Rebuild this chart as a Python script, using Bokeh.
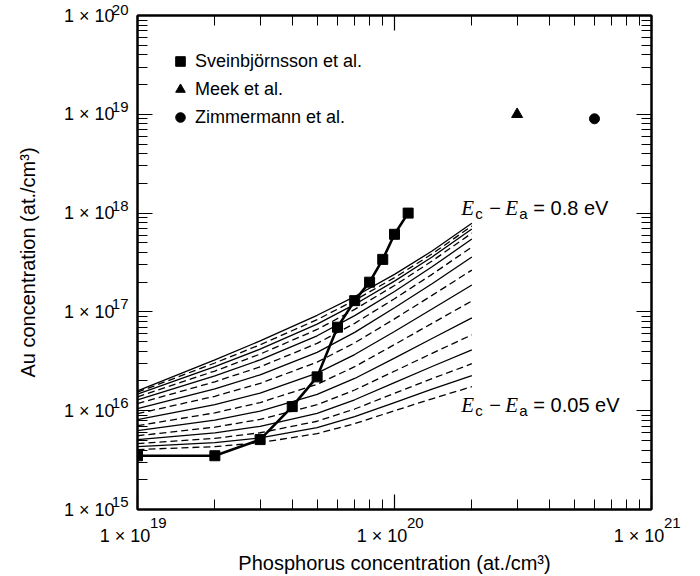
import numpy as np
from bokeh.plotting import figure
from bokeh.models import (LogAxis, FixedTicker, Label, Legend, LegendItem, Range1d,
                          CustomJSTickFormatter)
from bokeh.embed import file_html
from bokeh.resources import INLINE

# ---------------- data ----------------
phos_model = [1e19, 2e19, 3e19, 5e19, 7e19, 1e20, 1.4e20, 2e20]

au_ea_005 = [4.04e15, 4.33e15, 4.75e15, 5.86e15, 7.40e15, 1.00e16, 1.32e16, 1.75e16]
au_ea_010 = [4.33e15, 4.76e15, 5.31e15, 6.73e15, 8.69e15, 1.21e16, 1.65e16, 2.26e16]
au_ea_015 = [4.64e15, 5.25e15, 5.98e15, 7.82e15, 1.04e16, 1.50e16, 2.11e16, 2.99e16]
au_ea_020 = [5.09e15, 5.97e15, 6.95e15, 9.42e15, 1.29e16, 1.92e16, 2.80e16, 4.13e16]
au_ea_025 = [5.58e15, 6.81e15, 8.17e15, 1.15e16, 1.62e16, 2.51e16, 3.81e16, 5.86e16]
au_ea_030 = [6.28e15, 8.04e15, 9.91e15, 1.46e16, 2.12e16, 3.41e16, 5.38e16, 8.69e16]
au_ea_035 = [7.05e15, 9.51e15, 1.21e16, 1.85e16, 2.79e16, 4.67e16, 7.66e16, 1.29e17]
au_ea_040 = [8.11e15, 1.15e16, 1.51e16, 2.40e16, 3.70e16, 6.34e16, 1.07e17, 1.87e17]
au_ea_045 = [9.33e15, 1.40e16, 1.89e16, 3.10e16, 4.86e16, 8.49e16, 1.47e17, 2.65e17]
au_ea_050 = [1.05e16, 1.66e16, 2.31e16, 3.90e16, 6.21e16, 1.10e17, 1.93e17, 3.60e17]
au_ea_055 = [1.18e16, 1.96e16, 2.78e16, 4.80e16, 7.66e16, 1.36e17, 2.40e17, 4.54e17]
au_ea_060 = [1.29e16, 2.25e16, 3.27e16, 5.73e16, 9.16e16, 1.61e17, 2.86e17, 5.46e17]
au_ea_065 = [1.38e16, 2.52e16, 3.74e16, 6.64e16, 1.06e17, 1.85e17, 3.27e17, 6.28e17]
au_ea_070 = [1.47e16, 2.79e16, 4.20e16, 7.52e16, 1.19e17, 2.05e17, 3.60e17, 6.89e17]
au_ea_075 = [1.54e16, 3.04e16, 4.65e16, 8.34e16, 1.31e17, 2.22e17, 3.86e17, 7.40e17]
au_ea_080 = [1.59e16, 3.27e16, 5.09e16, 9.24e16, 1.43e17, 2.40e17, 4.13e17, 7.89e17]

model_curves = [au_ea_005, au_ea_010, au_ea_015, au_ea_020, au_ea_025, au_ea_030,
                au_ea_035, au_ea_040, au_ea_045, au_ea_050, au_ea_055, au_ea_060,
                au_ea_065, au_ea_070, au_ea_075, au_ea_080]

sv_phos = [1e19, 2e19, 3e19, 4e19, 5e19, 6e19, 7e19, 8e19, 9e19, 1e20, 1.13e20]
sv_au = [3.5e15, 3.5e15, 5.1e15, 1.1e16, 2.2e16, 7.0e16, 1.3e17, 2.0e17, 3.4e17, 6.1e17, 1.0e18]

meek_phos = [3.0e20]
meek_au = [1.0e19]

zim_phos = [6.0e20]
zim_au = [9.0e18]

legend_labels = ["Sveinbjörnsson et al.", "Meek et al.", "Zimmermann et al."]
x_title = "Phosphorus concentration (at./cm³)"
y_title = "Au concentration (at./cm³)"
x_major = [1e19, 1e20, 1e21]
y_major = [1e15, 1e16, 1e17, 1e18, 1e19, 1e20]

SANS = "Liberation Sans"
SERIF = "Liberation Serif"

# ---------------- figure ----------------
p = figure(width=700, height=576, x_axis_type="log", y_axis_type="log",
           x_range=Range1d(1e19, 1e21), y_range=Range1d(1e15, 1e20),
           output_backend="svg", toolbar_location=None,
           min_border_left=137, min_border_right=49,
           min_border_top=15, min_border_bottom=66)
p.grid.visible = False
p.outline_line_color = "black"
p.outline_line_width = 2
p.background_fill_color = "white"
p.border_fill_color = "white"


def minor_list(majors):
    out = []
    for m in majors[:-1]:
        out += [k * m for k in range(2, 10)]
    return out


x_ticker = FixedTicker(ticks=x_major, minor_ticks=minor_list(x_major))
y_ticker = FixedTicker(ticks=y_major, minor_ticks=minor_list(y_major))

blank_fmt = CustomJSTickFormatter(code="return ''")
# "1 x 10" part of the tick labels
mant_fmt_y = CustomJSTickFormatter(code="return '1 \u00d7 10';")
mant_fmt_x = CustomJSTickFormatter(code="return '1 \u00d7 10' + '\u00a0'.repeat(5);")
# exponent part (drawn smaller and raised, as a superscript)
exp_fmt_y = CustomJSTickFormatter(
    code="return String(Math.round(Math.log10(tick))) + '\\n\u00a0';")
exp_fmt_x = CustomJSTickFormatter(
    code="return '\u00a0'.repeat(10) + String(Math.round(Math.log10(tick)));")


def tick_axis(ax, ticker):
    ax.ticker = ticker
    ax.formatter = blank_fmt
    ax.axis_line_width = 2
    ax.axis_line_color = "black"
    ax.major_tick_in = 15
    ax.major_tick_out = 0
    ax.minor_tick_in = 10
    ax.minor_tick_out = 0
    ax.major_tick_line_width = 1.2
    ax.minor_tick_line_width = 1.0
    ax.major_tick_line_color = "black"
    ax.minor_tick_line_color = "black"
    ax.major_label_text_font_size = "1px"
    ax.major_label_standoff = 0


def label_axis(ax, ticker, fmt, size, standoff):
    ax.ticker = ticker
    ax.formatter = fmt
    ax.axis_line_color = None
    ax.major_tick_line_color = None
    ax.minor_tick_line_color = None
    ax.major_tick_in = 0
    ax.major_tick_out = 0
    ax.minor_tick_in = 0
    ax.minor_tick_out = 0
    ax.major_label_text_font = SANS
    ax.major_label_text_font_size = size
    ax.major_label_text_color = "black"
    ax.major_label_standoff = standoff
    ax.major_label_orientation = "horizontal"


# tick-only axes on all four sides
tick_axis(p.xaxis[0], x_ticker)
tick_axis(p.yaxis[0], y_ticker)
ax_top = LogAxis()
tick_axis(ax_top, x_ticker)
p.add_layout(ax_top, "above")
ax_right = LogAxis()
tick_axis(ax_right, y_ticker)
p.add_layout(ax_right, "right")

# y tick labels: exponent (inner) then mantissa (outer) + title
y_exp = LogAxis()
label_axis(y_exp, y_ticker, exp_fmt_y, "15px", 9)
y_exp.major_label_text_line_height = 0.95
p.add_layout(y_exp, "left")
y_mant = LogAxis()
label_axis(y_mant, y_ticker, mant_fmt_y, "18px", -6)
y_mant.axis_label = y_title
y_mant.axis_label_text_font = SANS
y_mant.axis_label_text_font_style = "normal"
y_mant.axis_label_text_font_size = "20px"
y_mant.axis_label_text_color = "black"
y_mant.axis_label_standoff = 22
p.add_layout(y_mant, "left")

# x tick labels: exponent (inner) then mantissa (outer) + title
x_exp = LogAxis()
label_axis(x_exp, x_ticker, exp_fmt_x, "15px", 4)
p.add_layout(x_exp, "below")
x_mant = LogAxis()
label_axis(x_mant, x_ticker, mant_fmt_x, "18px", -8)
x_mant.axis_label = x_title
x_mant.axis_label_text_font = SANS
x_mant.axis_label_text_font_style = "normal"
x_mant.axis_label_text_font_size = "20px"
x_mant.axis_label_text_color = "black"
x_mant.axis_label_standoff = 3
p.add_layout(x_mant, "below")

# ---------------- model curves ----------------
for i, au in enumerate(model_curves):
    dash = "7 4" if i % 2 == 0 else "solid"
    p.line(phos_model, au, line_color="black", line_width=1.3, line_dash=dash)

# ---------------- measured data ----------------
p.line(sv_phos, sv_au, line_color="black", line_width=2.6)
r_sv = p.scatter(sv_phos, sv_au, marker="square", size=10, color="black")
r_meek = p.scatter(meek_phos, meek_au, marker="triangle", size=11, color="black")
r_zim = p.scatter(zim_phos, zim_au, marker="circle", size=10, color="black")

legend = Legend(items=[LegendItem(label=legend_labels[0], renderers=[r_sv]),
                       LegendItem(label=legend_labels[1], renderers=[r_meek]),
                       LegendItem(label=legend_labels[2], renderers=[r_zim])],
                location=(31, 380), orientation="vertical",
                glyph_width=24, glyph_height=24, label_height=24,
                spacing=4, padding=0, margin=0, label_standoff=3,
                label_text_font=SANS, label_text_font_size="18px",
                label_text_color="black",
                border_line_color=None, background_fill_alpha=0)
p.add_layout(legend)


# ---------------- energy annotations ----------------
def energy_label(xa_, ya_, val_text):
    parts = [("E", SERIF, "italic", "21px", 0, 0),
             ("c", SANS, "normal", "15px", 14, -5),
             ("−", SANS, "normal", "20px", 28, 0),
             ("E", SERIF, "italic", "21px", 44, 0),
             ("a", SANS, "normal", "15px", 58, -5),
             ("= " + val_text + " eV", SANS, "normal", "20px", 72, 0)]
    for txt, font, style, size, dx, dy in parts:
        p.add_layout(Label(x=xa_, y=ya_, text=txt, text_align="left",
                           text_baseline="middle", x_offset=dx, y_offset=dy,
                           text_font=font, text_font_style=style,
                           text_font_size=size, text_color="black"))


energy_label(1.82e20, 1.12e18, "0.8")
energy_label(1.82e20, 1.14e16, "0.05")

open("out.html", "w").write(file_html(p, INLINE))
